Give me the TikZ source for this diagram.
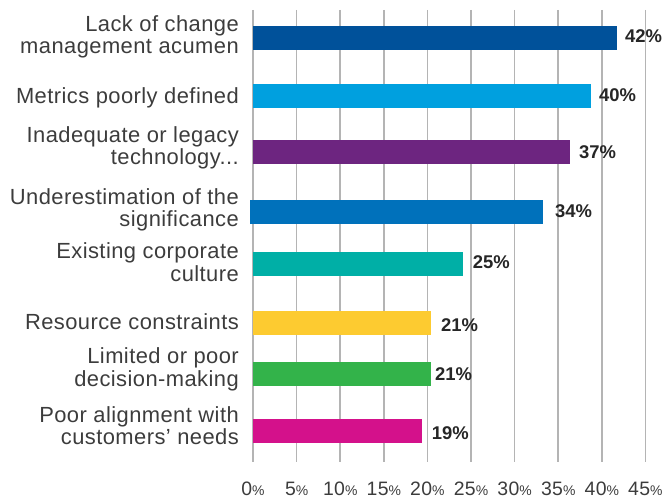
\documentclass[tikz,border=0pt]{standalone}
\usepackage{fontspec}
\setmainfont{Liberation Sans}
\newfontfamily\catfont{Liberation Sans}[LetterSpace=2]
\usetikzlibrary{calc}
\definecolor{labelgray}{HTML}{3C3C3C}
\definecolor{valuegray}{HTML}{262626}
\definecolor{gridgray}{HTML}{B4B4B4}
\definecolor{cobalt}{HTML}{00519A}
\definecolor{skyblue}{HTML}{00A0DF}
\definecolor{plum}{HTML}{6D2580}
\definecolor{midblue}{HTML}{0071BB}
\definecolor{teal}{HTML}{00AFA6}
\definecolor{sun}{HTML}{FDCB30}
\definecolor{leaf}{HTML}{33B34A}
\definecolor{magenta}{HTML}{D4118B}
\newcommand{\barheight}{24}
\newcommand{\gridstep}{43.6}
\newcommand{\zeroX}{253}
\newcommand{\pct}{{\fontsize{14}{14}\selectfont\%}}

\begin{document}
\begin{tikzpicture}[x=1bp, y=-1bp,
	catlabel/.style={anchor=east, align=right, inner sep=0pt, text=labelgray,
		font=\catfont\fontsize{22}{22.6}\selectfont},
	valuelabel/.style={anchor=west, inner sep=0pt, text=valuegray,
		font=\fontsize{18.5}{19}\selectfont\bfseries},
	ticklabel/.style={anchor=base, inner sep=0pt, text=labelgray,
		font=\catfont\fontsize{19.5}{20}\selectfont},
	gridline/.style={draw=gridgray, line width=1.5bp}]
			\useasboundingbox (0, 0) rectangle (670, 504);

			% grid and axis
			\foreach \i/\v in {0/0, 1/5, 2/10, 3/15, 4/20, 5/25, 6/30, 7/35, 8/40, 9/45} {
				\draw[gridline] (\zeroX + \i * \gridstep, 10) -- +(0, 452);
				\node[ticklabel] (tick\v) at (\zeroX + \i * \gridstep, 495) {\v\pct};
			}

			% bars
			\fill[cobalt]  (\zeroX, 26)  rectangle (617, 26 + \barheight);
			\fill[skyblue] (\zeroX, 84)  rectangle (591, 84 + \barheight);
			\fill[plum]    (\zeroX, 140) rectangle (570, 140 + \barheight);
			\fill[midblue] (250, 200)    rectangle (543, 200 + \barheight);
			\fill[teal]    (\zeroX, 252) rectangle (463, 252 + \barheight);
			\fill[sun]     (\zeroX, 311) rectangle (431, 311 + \barheight);
			\fill[leaf]    (\zeroX, 362) rectangle (431, 362 + \barheight);
			\fill[magenta] (\zeroX, 419) rectangle (422, 419 + \barheight);

			% values
			\node[valuelabel] (change) at (625, 36.3) {42\%};
			\node[valuelabel] (metrics) at (599, 95.5) {40\%};
			\node[valuelabel] (technology) at (579, 151.7) {37\%};
			\node[valuelabel] (significance) at (555, 211.3) {34\%};
			\node[valuelabel] (culture) at (472.7, 262) {25\%};
			\node[valuelabel] (resource) at (441, 324.7) {21\%};
			\node[valuelabel] (decision) at (435, 373.7) {21\%};
			\node[valuelabel] (alignment) at (431.7, 433) {19\%};

			% categories
			\node[catlabel] (changelabel) at (239, 37) {Lack of change\\management acumen};
			\node[catlabel] (metricslabel) at (239, 97.6) {Metrics poorly defined};
			\node[catlabel] (technologylabel) at (239, 147.7) {Inadequate or legacy\\technology...};
			\node[catlabel] (significancelabel) at (239, 209.8) {Underestimation of the\\significance};
			\node[catlabel] (culturelabel) at (239, 262.4) {Existing corporate\\culture};
			\node[catlabel] (resourcelabel) at (239, 321.3) {Resource constraints};
			\node[catlabel] (decisionlabel) at (239, 369.2) {Limited or poor\\decision-making};
			\node[catlabel] (alignmentlabel) at (239, 425.7) {Poor alignment with\\customers’ needs};

		\end{tikzpicture}
\end{document}
